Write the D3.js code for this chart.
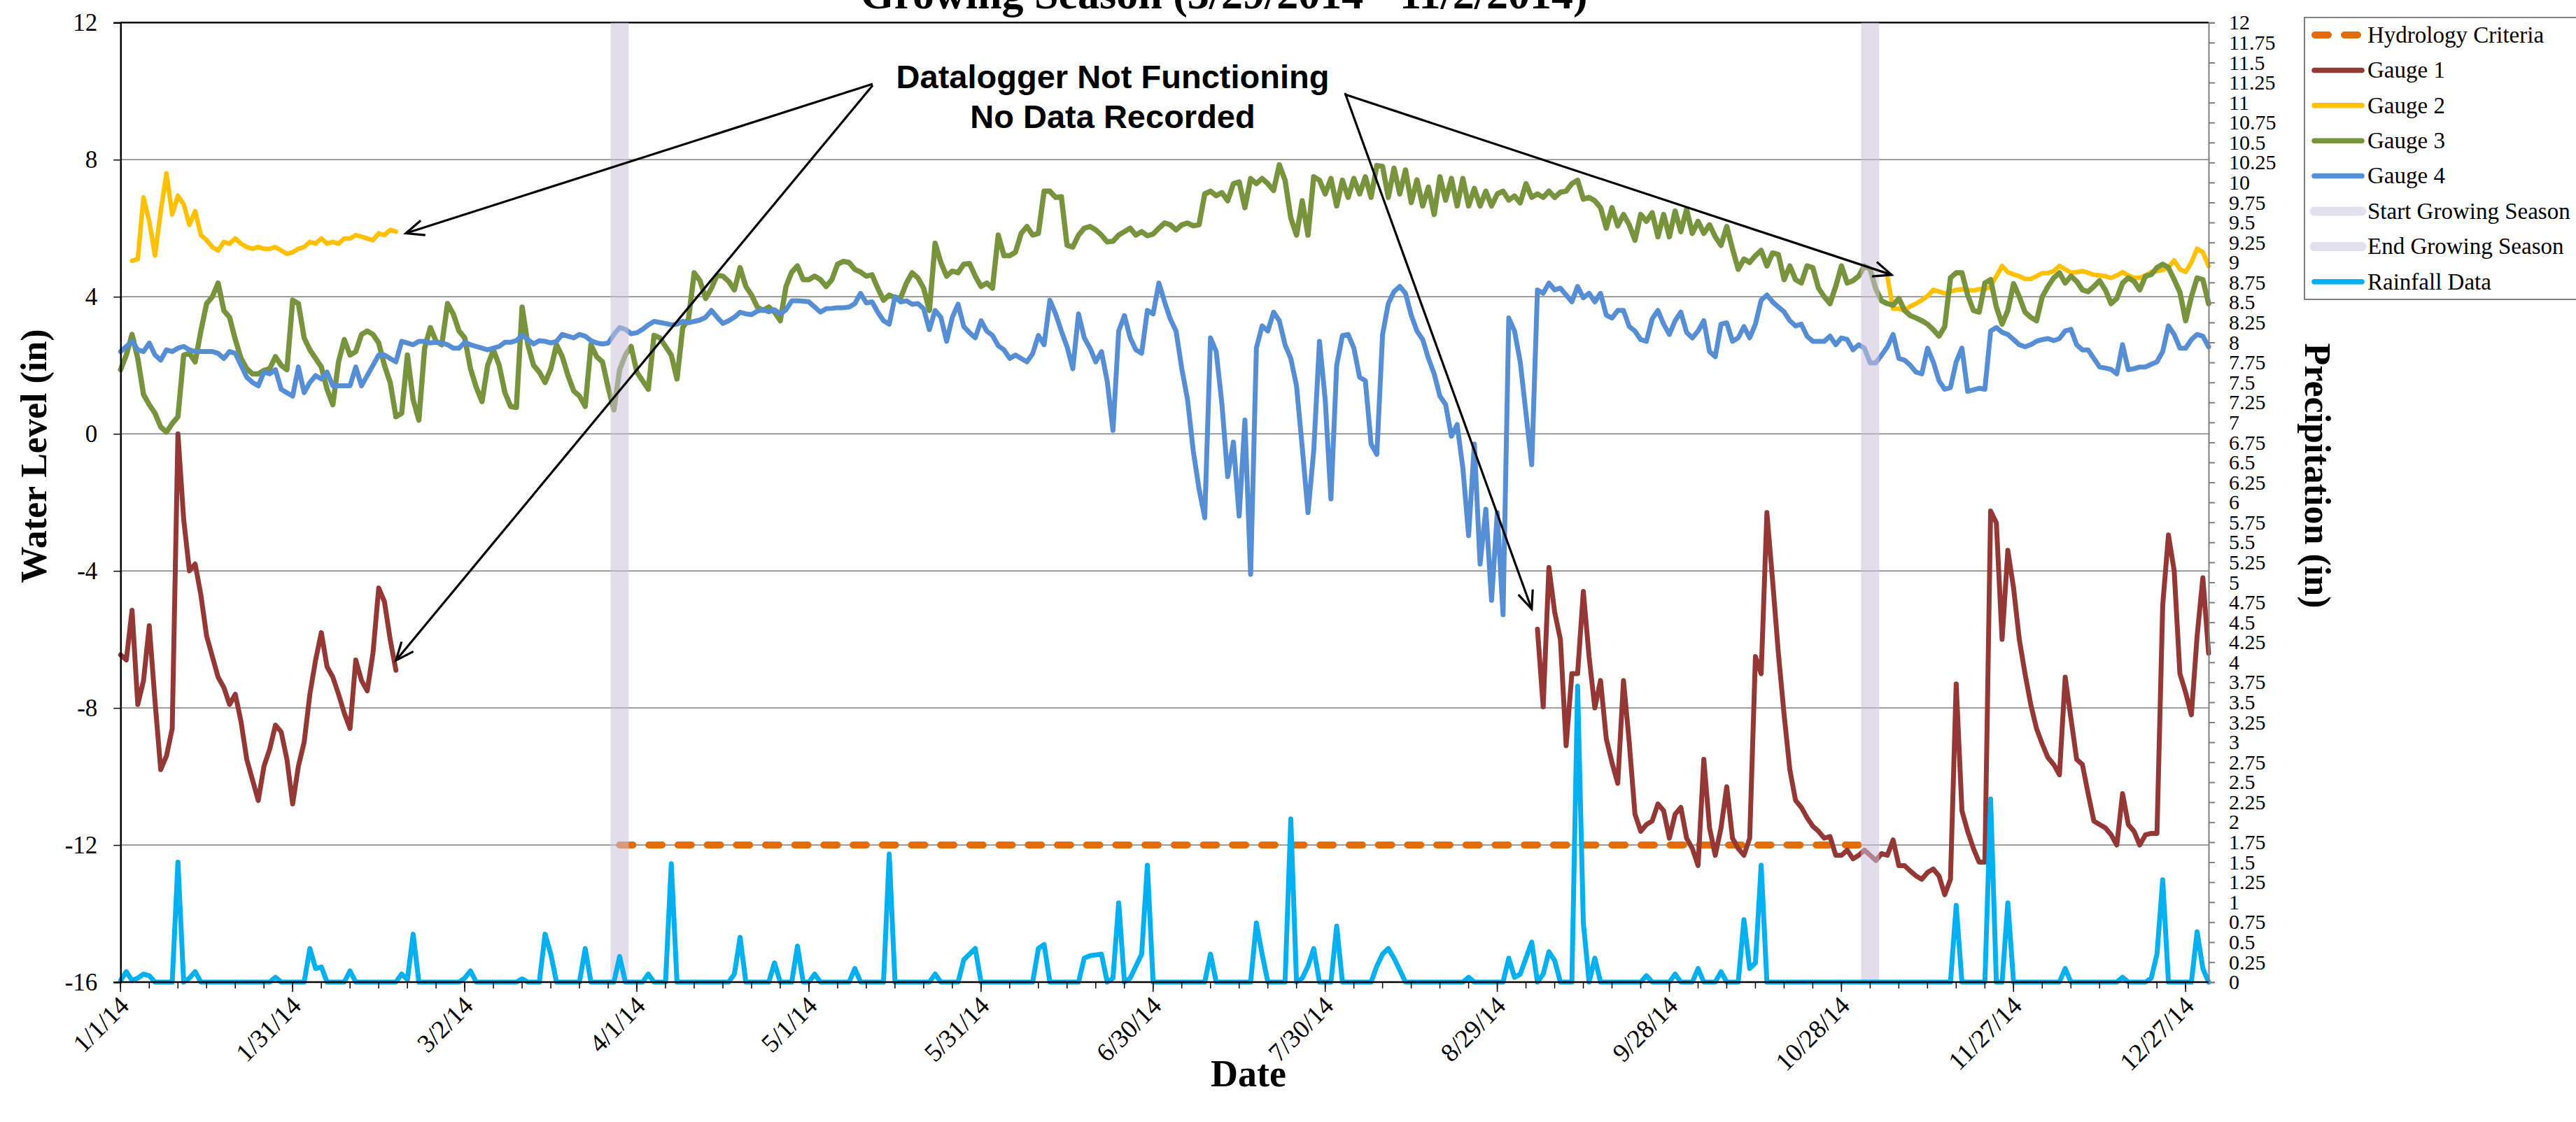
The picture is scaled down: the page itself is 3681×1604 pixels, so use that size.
<!DOCTYPE html>
<html>
<head>
<meta charset="utf-8">
<script src="https://cdn.jsdelivr.net/npm/d3@7"></script>
<style>
  html, body { margin: 0; padding: 0; background: #ffffff; }
  svg { display: block; }
</style>
</head>
<body>
<svg id="chart" width="3681" height="1604"></svg>
<script>
// ---------------------------------------------------------------------------
// Daily water levels (in) and rainfall (in), 2014
// ---------------------------------------------------------------------------

const chartTitle = "Growing Season (3/29/2014 - 11/2/2014)";
const growingSeasonStart = "2014-03-29";
const growingSeasonEnd = "2014-11-02";
const hydrologyCriteria = -12;

const leftTicks = [-16, -12, -8, -4, 0, 4, 8, 12];
const rightTickStep = 0.25;
const dateTickDays = 30;
const minorTickDays = 5;

// Gauge 1: logger record Jan 1 - Feb 18, then Sep 5 - Dec 31
const gauge1WinterStart = "2014-01-01";
const gauge1Winter = [
  -6.45, -6.6, -5.15, -7.9, -7.2, -5.6, -7.8, -9.8, -9.4, -8.6,
  0.0, -2.5, -4.0, -3.8, -4.7, -5.9, -6.5, -7.1, -7.4, -7.9,
  -7.6, -8.4, -9.5, -10.1, -10.7, -9.7, -9.2, -8.5, -8.7, -9.5,
  -10.8, -9.7, -9.0, -7.6, -6.6, -5.8, -6.8, -7.1, -7.6, -8.15,
  -8.6, -6.6, -7.2, -7.5, -6.4, -4.5, -4.9, -6.0, -6.9
];
const gauge1FallStart = "2014-09-05";
const gauge1Fall = [
  -5.7, -7.97, -3.9, -5.2, -6.0, -9.1, -7.0, -7.0, -4.6, -6.5,
  -8.0, -7.2, -8.9, -9.6, -10.2, -7.2, -9.0, -11.1, -11.6, -11.4,
  -11.3, -10.8, -11.0, -11.8, -11.1, -10.9, -11.8, -12.1, -12.6, -9.5,
  -11.5, -12.3, -11.5, -10.3, -11.8, -12.1, -12.3, -11.8, -6.5, -7.0,
  -2.3, -4.3, -6.4, -8.2, -9.8, -10.7, -10.9, -11.2, -11.45, -11.6,
  -11.8, -11.75, -12.3, -12.3, -12.15, -12.4, -12.3, -12.15, -12.3, -12.45,
  -12.25, -12.3, -11.85, -12.6, -12.6, -12.76, -12.9, -13.0, -12.8, -12.7,
  -12.9, -13.45, -13.0, -7.3, -11.0, -11.6, -12.1, -12.5, -12.5, -2.25,
  -2.6, -6.0, -3.4, -4.5, -6.0, -7.0, -7.9, -8.6, -9.05, -9.45,
  -9.65, -9.95, -7.1, -8.3, -9.5, -9.65, -10.5, -11.3, -11.4, -11.5,
  -11.7, -12.0, -10.5, -11.4, -11.6, -12.0, -11.7, -11.66, -11.66, -5.0,
  -2.95, -4.0, -7.0, -7.55, -8.2, -5.9, -4.2, -6.4
];

// Gauge 2: logger record Jan 3 - Feb 18, then Nov 5 - Dec 31
const gauge2WinterStart = "2014-01-03";
const gauge2Winter = [
  5.05, 5.1, 6.9, 6.2, 5.2, 6.5, 7.6, 6.4, 6.95, 6.7,
  6.1, 6.5, 5.8, 5.65, 5.45, 5.35, 5.6, 5.55, 5.7, 5.55,
  5.45, 5.4, 5.45, 5.4, 5.4, 5.45, 5.35, 5.25, 5.3, 5.4,
  5.45, 5.6, 5.55, 5.7, 5.55, 5.6, 5.55, 5.7, 5.7, 5.8,
  5.75, 5.7, 5.65, 5.85, 5.8, 5.95, 5.9
];
const gauge2FallStart = "2014-11-05";
const gauge2Fall = [
  4.6, 3.65, 3.65, 3.6, 3.72, 3.8, 3.9, 4.02, 4.2, 4.15,
  4.1, 4.15, 4.2, 4.22, 4.2, 4.18, 4.22, 4.22, 4.3, 4.6,
  4.9, 4.72, 4.65, 4.6, 4.52, 4.52, 4.6, 4.69, 4.69, 4.75,
  4.9, 4.8, 4.7, 4.72, 4.75, 4.7, 4.64, 4.62, 4.6, 4.55,
  4.62, 4.72, 4.62, 4.55, 4.55, 4.62, 4.72, 4.75, 4.78, 4.85,
  5.06, 4.8, 4.72, 5.0, 5.4, 5.3, 4.9
];

// Gauge 3: full year from Jan 1
const gauge3Start = "2014-01-01";
const gauge3 = [
  1.87, 2.3, 2.9, 2.2, 1.15, 0.85, 0.6, 0.2, 0.05, 0.3,
  0.5, 2.3, 2.35, 2.1, 3.0, 3.8, 4.0, 4.4, 3.6, 3.4,
  2.75, 2.2, 1.9, 1.75, 1.75, 1.85, 1.9, 2.25, 2.0, 1.87,
  3.9, 3.8, 2.8, 2.45, 2.2, 1.95, 1.3, 0.85, 2.1, 2.75,
  2.3, 2.4, 2.9, 3.0, 2.9, 2.65, 2.0, 1.5, 0.5, 0.6,
  2.3, 1.0, 0.4, 2.5, 3.1, 2.7, 2.6, 3.8, 3.5, 3.0,
  2.8,
  1.9, 1.36, 0.94, 2.0, 2.45, 2.0, 1.2, 0.8, 0.77, 3.7,
  2.6, 2.0, 1.8, 1.5, 1.9, 2.6, 2.25, 1.7, 1.25, 1.1,
  0.8, 2.6, 2.25, 2.1, 1.35, 0.7, 1.87, 2.3, 2.55, 1.8,
  1.55, 1.3, 2.87, 2.8, 2.55, 2.3, 1.6, 3.1, 3.35, 4.7,
  4.47, 3.95, 4.25, 4.63, 4.6, 4.45, 4.2, 4.85, 4.3, 4.05,
  3.7, 3.6, 3.7, 3.55, 3.3, 4.3, 4.72, 4.9, 4.5, 4.5,
  4.6,
  4.5, 4.3, 4.5, 4.95, 5.03, 5.0, 4.8, 4.72, 4.6, 4.64,
  4.25, 3.9, 4.05, 3.97, 3.97, 4.4, 4.7, 4.55, 4.25, 3.6,
  5.56, 5.0, 4.6, 4.75, 4.7, 4.95, 4.97, 4.6, 4.3, 4.4,
  4.25, 5.8, 5.2, 5.2, 5.3, 5.85, 6.05, 5.8, 5.85, 7.08,
  7.08, 6.9, 6.92, 5.5, 5.45, 5.8, 6.0, 6.05, 5.95, 5.8,
  5.6, 5.62, 5.8, 5.9, 6.0, 5.8, 5.9, 5.78, 5.83, 6.0,
  6.15, 6.1, 5.95, 6.1, 6.15, 6.07, 6.1, 7.0, 7.08, 6.95,
  7.04, 6.8, 7.3, 7.35, 6.6, 7.45, 7.3, 7.45, 7.3, 7.1,
  7.85, 7.4, 6.3, 5.8, 6.8, 5.8, 7.5, 7.4, 7.0, 7.45,
  6.65, 7.4, 6.9, 7.45, 7.0, 7.5, 6.9, 7.83, 7.8, 6.9,
  7.75, 7.0, 7.7, 6.75, 7.41, 6.65, 7.2, 6.4, 7.5, 6.82,
  7.45, 6.65, 7.45, 6.65, 7.16, 6.65, 7.08, 6.65, 7.0, 7.08,
  6.82, 6.94, 6.74, 7.3, 6.9, 7.0, 6.9, 7.08, 6.9, 7.05,
  7.08, 7.3, 7.4, 6.85, 6.9, 6.8, 6.6, 6.0, 6.6, 6.07,
  6.4, 6.1, 5.65, 6.4, 6.2, 6.45, 5.75, 6.4, 5.75, 6.5,
  5.9, 6.55, 5.85, 6.2, 5.85, 6.1, 5.75, 5.5, 6.05, 5.4,
  4.8, 5.1, 5.0, 5.2, 5.35, 4.9, 5.28, 5.23, 4.5, 4.9,
  4.5, 4.4, 4.9, 4.85, 4.25, 4.0, 3.8, 4.3, 4.9, 4.4,
  4.47,
  4.6, 4.9, 4.8, 4.22, 3.88, 3.8, 3.75, 3.95, 3.6, 3.45,
  3.38, 3.3, 3.2, 3.04, 2.85, 3.13, 4.55, 4.7, 4.7, 4.05,
  3.6, 3.55, 4.4, 4.5, 3.7, 3.2, 3.6, 4.38, 4.0, 3.55,
  3.4, 3.3, 4.0, 4.3, 4.55, 4.7, 4.4, 4.6, 4.45, 4.2,
  4.15, 4.3, 4.47, 4.2, 3.8, 3.95, 4.4, 4.55, 4.45, 4.2,
  4.6, 4.65, 4.85, 4.95, 4.85, 4.5, 4.13, 3.3, 4.0, 4.55,
  4.5, 3.8
];

// Gauge 4: full year from Jan 1
const gauge4Start = "2014-01-01";
const gauge4 = [
  2.4, 2.55, 2.7, 2.45, 2.4, 2.65, 2.3, 2.15, 2.45, 2.4,
  2.5, 2.55, 2.45, 2.4, 2.4, 2.4, 2.4, 2.35, 2.2, 2.4,
  2.35, 2.0, 1.65, 1.5, 1.4, 1.8, 1.75, 1.87, 1.3, 1.2,
  1.1, 1.95, 1.2, 1.5, 1.7, 1.6, 1.8, 1.4, 1.4, 1.4,
  1.4, 1.95, 1.4, 1.7, 2.0, 2.3, 2.3, 2.2, 2.1, 2.7,
  2.65, 2.6, 2.7, 2.7, 2.65, 2.67, 2.65, 2.6, 2.5, 2.5,
  2.67,
  2.6, 2.55, 2.5, 2.45, 2.5, 2.55, 2.67, 2.67, 2.72, 2.88,
  2.75, 2.62, 2.72, 2.7, 2.65, 2.7, 2.9, 2.85, 2.8, 2.9,
  2.85, 2.72, 2.65, 2.62, 2.65, 2.9, 3.1, 3.05, 2.92, 2.95,
  3.05, 3.18, 3.28, 3.25, 3.22, 3.18, 3.2, 3.28, 3.24, 3.28,
  3.32, 3.4, 3.6, 3.4, 3.22, 3.3, 3.4, 3.55, 3.5, 3.48,
  3.58, 3.62, 3.56, 3.62, 3.5, 3.62, 3.88, 3.88, 3.87, 3.85,
  3.7,
  3.55, 3.65, 3.66, 3.68, 3.68, 3.7, 3.8, 4.1, 3.82, 3.85,
  3.55, 3.3, 3.2, 4.0, 3.85, 3.88, 3.78, 3.8, 3.65, 3.04,
  3.6, 3.4, 2.7, 3.4, 3.78, 3.13, 2.95, 2.8, 3.3, 3.0,
  2.87, 2.57, 2.45, 2.2, 2.3, 2.2, 2.1, 2.34, 2.87, 2.6,
  3.9, 3.5, 3.0, 2.54, 1.9, 3.5, 2.8, 2.5, 2.1, 2.4,
  1.53, 0.1, 3.0, 3.45, 2.8, 2.45, 2.35, 3.6, 3.5, 4.4,
  3.85, 3.35, 3.0, 1.9, 1.0, -0.5, -1.6, -2.45, 2.8, 2.4,
  0.86, -1.25, -0.24, -2.4, 0.4, -4.1, 2.5, 3.15, 3.0, 3.55,
  3.3, 2.6, 2.2, 1.4, -0.4, -2.3, -0.5, 2.7, 1.0, -1.9,
  2.0, 2.87, 2.9, 2.5, 1.65, 1.55, -0.3, -0.6, 2.9, 3.8,
  4.15, 4.3, 4.1, 3.46, 3.0, 2.75, 2.2, 1.75, 1.1, 0.85,
  -0.07, 0.27, -1.0, -2.97, -0.3, -3.8, -2.2, -4.86, -2.3, -5.28,
  3.38,
  3.0, 2.1, 0.6, -0.9, 4.2, 4.1, 4.4, 4.2, 4.25, 4.05,
  3.85, 4.3, 3.97, 4.1, 3.85, 4.1, 3.46, 3.38, 3.6, 3.6,
  3.13, 3.0, 2.75, 2.7, 3.35, 3.6, 3.2, 2.9, 3.3, 3.55,
  2.96, 2.8, 3.0, 3.3, 2.4, 2.25, 3.2, 3.24, 2.7, 2.8,
  3.13, 2.8, 3.2, 3.9, 4.05, 3.85, 3.7, 3.56, 3.3, 3.15,
  3.2, 2.85, 2.7, 2.7, 2.7, 2.85, 2.6, 2.8, 2.75, 2.45,
  2.6, 2.5, 2.07, 2.07, 2.3, 2.54, 2.9, 2.2, 2.15, 2.0,
  1.8, 1.75, 2.5, 2.1, 1.55, 1.3, 1.35, 2.1, 2.5, 1.24,
  1.28, 1.33, 1.3, 3.0, 3.1, 2.96, 2.9, 2.75, 2.6, 2.54,
  2.6, 2.7, 2.75, 2.78, 2.72, 2.78, 3.0, 3.05, 2.6, 2.45,
  2.45, 2.2, 1.95, 1.92, 1.88, 1.75, 2.6, 1.87, 1.9, 1.95,
  1.95, 2.03, 2.1, 2.4, 3.15, 2.9, 2.5, 2.5, 2.75, 2.9,
  2.85, 2.54
];

// Daily rainfall (in), Jan 1 - Dec 31, one row per month
const rainfallStart = "2014-01-01";
const rainfall = [
  0.02, 0.13, 0.02, 0.05, 0.1, 0.08, 0, 0, 0, 0, 1.5, 0, 0.05, 0.13, 0, 0, 0, 0, 0, 0, 0, 0, 0, 0, 0, 0, 0, 0.06, 0, 0, 0,
  0, 0, 0.42, 0.17, 0.19, 0, 0, 0, 0, 0.14, 0, 0, 0, 0, 0, 0, 0, 0, 0.1, 0.03, 0.6, 0, 0, 0, 0, 0, 0, 0,
  0, 0.05, 0.14, 0, 0, 0, 0, 0, 0, 0, 0, 0.04, 0, 0, 0, 0.6, 0.35, 0, 0, 0, 0, 0, 0.42, 0, 0, 0, 0, 0, 0.32, 0, 0,
  0, 0, 0.1, 0, 0, 0, 1.48, 0, 0, 0, 0, 0, 0, 0, 0, 0, 0, 0.1, 0.56, 0, 0, 0, 0, 0, 0.24, 0, 0, 0, 0.45, 0,
  0, 0.1, 0, 0, 0, 0, 0, 0, 0.17, 0, 0, 0, 0, 0, 1.6, 0, 0, 0, 0, 0, 0, 0, 0.1, 0, 0, 0, 0, 0.28, 0.35, 0.42, 0,
  0, 0, 0, 0, 0, 0, 0, 0, 0, 0.42, 0.47, 0, 0, 0, 0, 0, 0, 0.3, 0.33, 0.34, 0.35, 0, 0.05, 0.99, 0, 0.05, 0.2, 0.35, 1.46, 0,
  0, 0, 0, 0, 0, 0, 0, 0, 0, 0.35, 0, 0, 0, 0, 0, 0, 0, 0.74, 0.35, 0, 0, 0, 0, 2.04, 0, 0.05, 0.2, 0.42, 0, 0, 0,
  0.7, 0, 0, 0, 0, 0, 0, 0.2, 0.35, 0.42, 0.3, 0.15, 0, 0, 0, 0, 0, 0, 0, 0, 0, 0, 0, 0.06, 0, 0, 0, 0, 0, 0, 0.3,
  0.06, 0.1, 0.3, 0.5, 0, 0.1, 0.38, 0.27, 0, 0, 0, 3.7, 0.74, 0, 0.3, 0, 0, 0, 0, 0, 0, 0, 0, 0.08, 0, 0, 0, 0, 0.1, 0,
  0, 0, 0.17, 0, 0, 0, 0.13, 0, 0, 0, 0.78, 0.17, 0.24, 1.46, 0, 0, 0, 0, 0, 0, 0, 0, 0, 0, 0, 0, 0, 0, 0, 0, 0,
  0, 0, 0, 0, 0, 0, 0, 0, 0, 0, 0, 0, 0, 0, 0, 0, 0.96, 0, 0, 0, 0, 0, 2.29, 0, 0, 0.99, 0, 0, 0, 0,
  0, 0, 0, 0, 0, 0.17, 0, 0, 0, 0, 0, 0, 0, 0, 0, 0.06, 0, 0, 0, 0, 0.05, 0.35, 1.28, 0, 0, 0, 0, 0, 0.63, 0.17, 0
];

const legendLabels = [
  "Hydrology Criteria", "Gauge 1", "Gauge 2", "Gauge 3", "Gauge 4",
  "Start Growing Season", "End Growing Season", "Rainfall Data"
];
const noteLines = ["Datalogger Not Functioning", "No Data Recorded"];

// ---------------------------------------------------------------------------
// Layout and styles
// ---------------------------------------------------------------------------
const W = 3681, H = 1604;
const plot = { left: 172.3, right: 3156, top: 32.3, bottom: 1404 };
const serif = "'Liberation Serif', 'Times New Roman', serif";
const sans = "'Liberation Sans', Arial, sans-serif";

const colors = {
  hydrology: "#E36C09",
  gauge1: "#953735",
  gauge2: "#FFC000",
  gauge3: "#77933C",
  gauge4: "#558ED5",
  season: "#CCC1DA",
  rain: "#00B0F0"
};

const parse = d3.timeParse("%Y-%m-%d");
const daily = (start, values) => {
  const s = parse(start);
  return values.map((v, i) => ({ date: d3.timeDay.offset(s, i), value: v }));
};

const x = d3.scaleTime()
  .domain([parse("2014-01-01"), parse("2014-12-31")])
  .range([plot.left, plot.right]);
const y = d3.scaleLinear().domain([-16, 12]).range([plot.bottom, plot.top]);
const y2 = d3.scaleLinear().domain([0, 12]).range([plot.bottom, plot.top]);

const svg = d3.select("#chart");
svg.append("rect").attr("width", W).attr("height", H).attr("fill", "#ffffff");

// Horizontal gridlines
svg.append("g").selectAll("line")
  .data(leftTicks.filter(v => v > -16 && v < 12))
  .join("line")
  .attr("x1", plot.left).attr("x2", plot.right)
  .attr("y1", d => y(d)).attr("y2", d => y(d))
  .attr("stroke", "#7f7f7f").attr("stroke-width", 1.5);
svg.append("line")
  .attr("x1", plot.left).attr("x2", plot.right)
  .attr("y1", y(12)).attr("y2", y(12))
  .attr("stroke", "#000").attr("stroke-width", 2.5);

// Series lines
const lineL = d3.line().x(d => x(d.date)).y(d => y(d.value));
const lineR = d3.line().x(d => x(d.date)).y(d => y2(d.value));

function drawLine(data, gen, color, width, dash) {
  const p = svg.append("path")
    .datum(data)
    .attr("d", gen)
    .attr("fill", "none")
    .attr("stroke", color)
    .attr("stroke-width", width)
    .attr("stroke-linejoin", "round")
    .attr("stroke-linecap", "round");
  if (dash) p.attr("stroke-dasharray", dash);
  return p;
}

const seasonDates = [parse(growingSeasonStart), parse(growingSeasonEnd)];
drawLine(seasonDates.map(d => ({ date: d, value: hydrologyCriteria })), lineL,
  colors.hydrology, 10, "19,22.7");

drawLine(daily(gauge1WinterStart, gauge1Winter), lineL, colors.gauge1, 7);
drawLine(daily(gauge1FallStart, gauge1Fall), lineL, colors.gauge1, 7);
drawLine(daily(gauge2WinterStart, gauge2Winter), lineL, colors.gauge2, 6.5);
drawLine(daily(gauge2FallStart, gauge2Fall), lineL, colors.gauge2, 6.5);
drawLine(daily(gauge3Start, gauge3), lineL, colors.gauge3, 7.5);
drawLine(daily(gauge4Start, gauge4), lineL, colors.gauge4, 7);

// Growing season markers (translucent vertical bands)
seasonDates.forEach(d => {
  svg.append("line")
    .attr("x1", x(d)).attr("x2", x(d))
    .attr("y1", y(12)).attr("y2", y(-16))
    .attr("stroke", colors.season)
    .attr("stroke-opacity", 0.55)
    .attr("stroke-width", 26);
});

drawLine(daily(rainfallStart, rainfall), lineR, colors.rain, 7);

// ---------------------------------------------------------------------------
// Axes
// ---------------------------------------------------------------------------
const leftAxis = d3.axisLeft(y).tickValues(leftTicks).tickSize(10).tickPadding(23)
  .tickFormat(d => String(d));
const gL = svg.append("g").attr("transform", `translate(${plot.left},0)`).call(leftAxis);
gL.select(".domain").attr("stroke", "#000").attr("stroke-width", 2.5);
gL.selectAll(".tick line").attr("stroke", "#000").attr("stroke-width", 1.5);
gL.selectAll(".tick text").attr("font-family", serif).attr("font-size", 35).attr("fill", "#000");

const rightTicks = d3.range(0, 12 + 1e-9, rightTickStep).map(v => +v.toFixed(2));
const rightAxis = d3.axisRight(y2).tickValues(rightTicks).tickSize(9).tickPadding(20)
  .tickFormat(d => String(d));
const gR = svg.append("g").attr("transform", `translate(${plot.right},0)`).call(rightAxis);
gR.select(".domain").attr("stroke", "#7f7f7f").attr("stroke-width", 2);
gR.selectAll(".tick line").attr("stroke", "#7f7f7f").attr("stroke-width", 2);
gR.selectAll(".tick text").attr("font-family", serif).attr("font-size", 30).attr("fill", "#000");

// Date axis
const t0 = parse("2014-01-01");
const majorDates = d3.range(0, 361, dateTickDays).map(i => d3.timeDay.offset(t0, i));
const minorDates = d3.range(0, 365, minorTickDays).map(i => d3.timeDay.offset(t0, i));
const gB = svg.append("g");
gB.append("line")
  .attr("x1", plot.left).attr("x2", plot.right)
  .attr("y1", plot.bottom).attr("y2", plot.bottom)
  .attr("stroke", "#000").attr("stroke-width", 2.5);
gB.selectAll("line.minor").data(minorDates).join("line")
  .attr("class", "minor")
  .attr("x1", d => x(d)).attr("x2", d => x(d))
  .attr("y1", plot.bottom).attr("y2", plot.bottom + 9)
  .attr("stroke", "#000").attr("stroke-width", 1.5);
gB.selectAll("line.major").data(majorDates).join("line")
  .attr("class", "major")
  .attr("x1", d => x(d)).attr("x2", d => x(d))
  .attr("y1", plot.bottom).attr("y2", plot.bottom + 14)
  .attr("stroke", "#000").attr("stroke-width", 1.5);
const fmtDate = d => `${d.getMonth() + 1}/${d.getDate()}/${String(d.getFullYear()).slice(2)}`;
gB.selectAll("text").data(majorDates).join("text")
  .attr("transform", d => `translate(${x(d) + 14},${plot.bottom + 36}) rotate(-45)`)
  .attr("text-anchor", "end")
  .attr("font-family", serif).attr("font-size", 37).attr("fill", "#000")
  .text(fmtDate);

// Axis titles
svg.append("text")
  .attr("transform", "translate(66,652) rotate(-90)")
  .attr("text-anchor", "middle")
  .attr("font-family", serif).attr("font-weight", "bold").attr("font-size", 52)
  .text("Water Level (in)");
svg.append("text")
  .attr("transform", "translate(3294,680) rotate(90)")
  .attr("text-anchor", "middle")
  .attr("font-family", serif).attr("font-weight", "bold").attr("font-size", 52)
  .text("Precipitation (in)");
svg.append("text")
  .attr("x", 1784).attr("y", 1553)
  .attr("text-anchor", "middle")
  .attr("font-family", serif).attr("font-weight", "bold").attr("font-size", 54)
  .text("Date");
svg.append("text")
  .attr("x", 1749).attr("y", 12)
  .attr("text-anchor", "middle")
  .attr("font-family", serif).attr("font-weight", "bold").attr("font-size", 62)
  .text(chartTitle);

// ---------------------------------------------------------------------------
// Annotation
// ---------------------------------------------------------------------------
const note = svg.append("g");
noteLines.forEach((t, i) => {
  note.append("text")
    .attr("x", 1590).attr("y", 126 + i * 57)
    .attr("text-anchor", "middle")
    .attr("font-family", sans).attr("font-weight", "bold").attr("font-size", 47)
    .text(t);
});

// arrows from the note to where each logger stops / resumes
const arrowTargets = [
  { from: [1247, 120], date: "2014-02-19", value: 5.85 },
  { from: [1247, 122], date: "2014-02-18", value: -6.9 },
  { from: [1922, 135], date: "2014-11-05", value: 4.64 },
  { from: [1922, 133], date: "2014-09-04", value: -5.4 }
];
arrowTargets.forEach(a => {
  const tx = x(parse(a.date)) + (a.value > 0 ? 6 : 0), ty = y(a.value) + (a.value > 0 ? 0 : -14);
  const [fx, fy] = a.from;
  const ang = Math.atan2(fy - ty, fx - tx);
  const len = 28, spread = 0.4;
  note.append("line")
    .attr("x1", fx).attr("y1", fy).attr("x2", tx).attr("y2", ty)
    .attr("stroke", "#000").attr("stroke-width", 3.2);
  note.append("path")
    .attr("d", `M${tx + len * Math.cos(ang + spread)},${ty + len * Math.sin(ang + spread)}L${tx},${ty}L${tx + len * Math.cos(ang - spread)},${ty + len * Math.sin(ang - spread)}`)
    .attr("fill", "none").attr("stroke", "#000").attr("stroke-width", 3.2)
    .attr("stroke-linejoin", "miter");
});

// ---------------------------------------------------------------------------
// Legend
// ---------------------------------------------------------------------------
const legend = svg.append("g");
legend.append("rect")
  .attr("x", 3293).attr("y", 25).attr("width", 420).attr("height", 403)
  .attr("fill", "#fff").attr("stroke", "#7f7f7f").attr("stroke-width", 2);
const legendStyles = [
  { color: colors.hydrology, width: 10, dash: "19,23" },
  { color: colors.gauge1, width: 7.5 },
  { color: colors.gauge2, width: 7.5 },
  { color: colors.gauge3, width: 7.5 },
  { color: colors.gauge4, width: 7.5 },
  { color: "#E4DFEC", width: 13 },
  { color: "#E4DFEC", width: 13 },
  { color: colors.rain, width: 7.5 }
];
legendLabels.forEach((label, i) => {
  const cy = 50 + i * 50.4;
  const st = legendStyles[i];
  const ln = legend.append("line")
    .attr("x1", st.dash ? 3308 : 3307).attr("x2", st.dash ? 3372 : 3375)
    .attr("y1", cy).attr("y2", cy)
    .attr("stroke", st.color).attr("stroke-width", st.width)
    .attr("stroke-linecap", "round");
  if (st.dash) ln.attr("stroke-dasharray", st.dash);
  legend.append("text")
    .attr("x", 3383).attr("y", cy).attr("dy", "0.33em")
    .attr("font-family", serif).attr("font-size", 33)
    .text(label);
});
</script>
</body>
</html>
